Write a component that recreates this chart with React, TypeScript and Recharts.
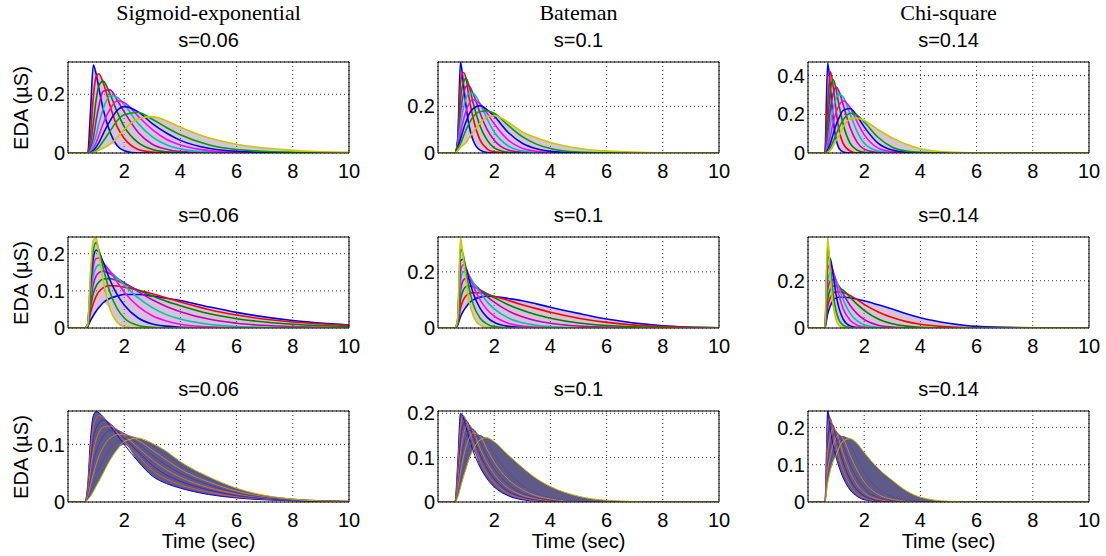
import { ComposedChart, Line, Area, XAxis, YAxis, CartesianGrid, ReferenceLine } from 'recharts'

// sample times (sec) shared by every curve
const T = [0, 0.6, 0.7, 0.8, 0.9, 1.0, 1.1, 1.25, 1.5, 1.75, 2, 2.5, 3, 3.5, 4, 5, 6, 8, 10]

// row 1: shape parameter varies
const sigmoidTop = [
  [0, 0, 0, 0.14, 0.3, 0.27, 0.22, 0.15, 0.07, 0.025, 0.008, 0, 0, 0, 0, 0, 0, 0, 0],
  [0, 0, 0, 0.06, 0.19, 0.26, 0.27, 0.24, 0.16, 0.09, 0.05, 0.012, 0.003, 0, 0, 0, 0, 0, 0],
  [0, 0, 0, 0.03, 0.1, 0.18, 0.23, 0.245, 0.2, 0.14, 0.09, 0.035, 0.012, 0.004, 0.001, 0, 0, 0, 0],
  [0, 0, 0, 0.015, 0.05, 0.11, 0.16, 0.21, 0.215, 0.18, 0.14, 0.07, 0.03, 0.013, 0.005, 0.001, 0, 0, 0],
  [0, 0, 0, 0.008, 0.03, 0.06, 0.1, 0.15, 0.195, 0.19, 0.165, 0.1, 0.055, 0.028, 0.014, 0.003, 0.001, 0, 0],
  [0, 0, 0, 0.004, 0.015, 0.035, 0.06, 0.1, 0.15, 0.178, 0.172, 0.125, 0.08, 0.047, 0.027, 0.008, 0.002, 0, 0],
  [0, 0, 0, 0.002, 0.008, 0.02, 0.035, 0.065, 0.11, 0.145, 0.158, 0.14, 0.1, 0.068, 0.043, 0.016, 0.006, 0.001, 0],
  [0, 0, 0, 0.001, 0.004, 0.01, 0.02, 0.04, 0.075, 0.11, 0.13, 0.138, 0.115, 0.087, 0.062, 0.028, 0.012, 0.002, 0],
  [0, 0, 0, 0, 0.002, 0.005, 0.009, 0.016, 0.03, 0.052, 0.08, 0.117, 0.124, 0.11, 0.088, 0.052, 0.03, 0.009, 0.002],
]
const batemanTop = [
  [0, 0, 0.06, 0.39, 0.3, 0.2, 0.12, 0.055, 0.012, 0.002, 0, 0, 0, 0, 0, 0, 0, 0, 0],
  [0, 0, 0.05, 0.3, 0.345, 0.32, 0.24, 0.15, 0.055, 0.017, 0.005, 0, 0, 0, 0, 0, 0, 0, 0],
  [0, 0, 0.045, 0.23, 0.3, 0.32, 0.29, 0.215, 0.115, 0.055, 0.022, 0.003, 0, 0, 0, 0, 0, 0, 0],
  [0, 0, 0.04, 0.17, 0.25, 0.285, 0.288, 0.255, 0.17, 0.1, 0.055, 0.013, 0.003, 0, 0, 0, 0, 0, 0],
  [0, 0, 0.035, 0.12, 0.19, 0.235, 0.255, 0.255, 0.21, 0.145, 0.09, 0.03, 0.009, 0.002, 0, 0, 0, 0, 0],
  [0, 0, 0.03, 0.085, 0.14, 0.18, 0.21, 0.228, 0.21, 0.17, 0.125, 0.055, 0.02, 0.007, 0.002, 0, 0, 0, 0],
  [0, 0, 0.025, 0.06, 0.1, 0.135, 0.165, 0.19, 0.203, 0.185, 0.158, 0.088, 0.042, 0.018, 0.007, 0.001, 0, 0, 0],
  [0, 0, 0.02, 0.04, 0.07, 0.1, 0.125, 0.155, 0.178, 0.18, 0.17, 0.118, 0.07, 0.038, 0.019, 0.004, 0.001, 0, 0],
  [0, 0, 0.01, 0.025, 0.035, 0.045, 0.065, 0.09, 0.128, 0.155, 0.16, 0.132, 0.09, 0.065, 0.045, 0.02, 0.008, 0.001, 0],
]
const chiTop = [
  [0, 0, 0.465, 0.33, 0.17, 0.07, 0.025, 0.005, 0, 0, 0, 0, 0, 0, 0, 0, 0, 0, 0],
  [0, 0, 0.25, 0.42, 0.34, 0.22, 0.12, 0.05, 0.01, 0, 0, 0, 0, 0, 0, 0, 0, 0, 0],
  [0, 0, 0.15, 0.33, 0.38, 0.33, 0.25, 0.15, 0.05, 0.015, 0.004, 0, 0, 0, 0, 0, 0, 0, 0],
  [0, 0, 0.09, 0.23, 0.31, 0.34, 0.32, 0.25, 0.13, 0.055, 0.02, 0.003, 0, 0, 0, 0, 0, 0, 0],
  [0, 0, 0.05, 0.15, 0.23, 0.28, 0.303, 0.29, 0.2, 0.11, 0.05, 0.01, 0.002, 0, 0, 0, 0, 0, 0],
  [0, 0, 0.03, 0.09, 0.16, 0.21, 0.245, 0.27, 0.235, 0.16, 0.095, 0.025, 0.006, 0.001, 0, 0, 0, 0, 0],
  [0, 0, 0.015, 0.05, 0.1, 0.145, 0.18, 0.22, 0.23, 0.19, 0.135, 0.05, 0.015, 0.004, 0.001, 0, 0, 0, 0],
  [0, 0, 0.008, 0.03, 0.06, 0.095, 0.13, 0.17, 0.205, 0.195, 0.16, 0.08, 0.03, 0.01, 0.003, 0, 0, 0, 0],
  [0, 0, 0.004, 0.015, 0.035, 0.065, 0.09, 0.135, 0.175, 0.18, 0.168, 0.12, 0.078, 0.045, 0.022, 0.005, 0.001, 0, 0],
]

// row 2: decay time varies (slowest first)
const sigmoidMid = [
  [0, 0, 0.004, 0.02, 0.033, 0.045, 0.055, 0.068, 0.08, 0.086, 0.09, 0.09, 0.086, 0.08, 0.074, 0.057, 0.042, 0.02, 0.008],
  [0, 0, 0.005, 0.04, 0.066, 0.085, 0.098, 0.108, 0.114, 0.113, 0.11, 0.102, 0.092, 0.081, 0.07, 0.05, 0.035, 0.016, 0.007],
  [0, 0, 0.006, 0.055, 0.093, 0.113, 0.124, 0.132, 0.133, 0.127, 0.119, 0.102, 0.086, 0.072, 0.06, 0.039, 0.025, 0.01, 0.004],
  [0, 0, 0.007, 0.07, 0.117, 0.14, 0.149, 0.153, 0.146, 0.134, 0.122, 0.098, 0.076, 0.058, 0.044, 0.024, 0.013, 0.004, 0.001],
  [0, 0, 0.008, 0.085, 0.14, 0.163, 0.17, 0.167, 0.152, 0.135, 0.116, 0.081, 0.055, 0.036, 0.024, 0.01, 0.004, 0.001, 0],
  [0, 0, 0.009, 0.1, 0.163, 0.187, 0.188, 0.176, 0.152, 0.124, 0.097, 0.058, 0.033, 0.019, 0.01, 0.003, 0.001, 0, 0],
  [0, 0, 0.01, 0.115, 0.187, 0.21, 0.204, 0.178, 0.128, 0.09, 0.062, 0.027, 0.011, 0.005, 0.002, 0, 0, 0, 0],
  [0, 0, 0.01, 0.13, 0.21, 0.23, 0.21, 0.163, 0.095, 0.052, 0.027, 0.007, 0.002, 0, 0, 0, 0, 0, 0],
  [0, 0, 0.01, 0.15, 0.235, 0.243, 0.2, 0.13, 0.05, 0.015, 0.004, 0, 0, 0, 0, 0, 0, 0, 0],
]
const batemanMid = [
  [0, 0, 0.01, 0.04, 0.06, 0.075, 0.088, 0.1, 0.11, 0.113, 0.112, 0.105, 0.097, 0.086, 0.074, 0.052, 0.032, 0.008, 0.001],
  [0, 0, 0.014, 0.07, 0.1, 0.115, 0.122, 0.126, 0.125, 0.12, 0.113, 0.098, 0.083, 0.069, 0.056, 0.035, 0.02, 0.005, 0.001],
  [0, 0, 0.017, 0.1, 0.135, 0.148, 0.15, 0.147, 0.135, 0.122, 0.108, 0.083, 0.063, 0.047, 0.035, 0.018, 0.009, 0.002, 0],
  [0, 0, 0.02, 0.13, 0.17, 0.177, 0.172, 0.16, 0.135, 0.112, 0.092, 0.061, 0.04, 0.026, 0.017, 0.007, 0.003, 0, 0],
  [0, 0, 0.022, 0.165, 0.2, 0.2, 0.188, 0.163, 0.125, 0.093, 0.068, 0.036, 0.019, 0.01, 0.005, 0.001, 0, 0, 0],
  [0, 0, 0.025, 0.2, 0.225, 0.212, 0.188, 0.15, 0.1, 0.065, 0.042, 0.017, 0.007, 0.003, 0.001, 0, 0, 0, 0],
  [0, 0, 0.028, 0.24, 0.245, 0.212, 0.175, 0.125, 0.07, 0.038, 0.02, 0.006, 0.002, 0, 0, 0, 0, 0, 0],
  [0, 0, 0.03, 0.28, 0.26, 0.2, 0.145, 0.085, 0.035, 0.014, 0.005, 0.001, 0, 0, 0, 0, 0, 0, 0],
  [0, 0, 0.035, 0.32, 0.25, 0.17, 0.1, 0.045, 0.01, 0.002, 0, 0, 0, 0, 0, 0, 0, 0, 0],
]
const chiMid = [
  [0, 0, 0.06, 0.095, 0.118, 0.127, 0.13, 0.13, 0.128, 0.122, 0.115, 0.098, 0.08, 0.06, 0.043, 0.02, 0.007, 0.001, 0],
  [0, 0, 0.09, 0.13, 0.148, 0.153, 0.153, 0.15, 0.138, 0.12, 0.1, 0.068, 0.044, 0.027, 0.016, 0.005, 0.001, 0, 0],
  [0, 0, 0.12, 0.165, 0.178, 0.178, 0.172, 0.16, 0.13, 0.1, 0.075, 0.038, 0.018, 0.008, 0.003, 0, 0, 0, 0],
  [0, 0, 0.16, 0.2, 0.205, 0.195, 0.178, 0.145, 0.095, 0.06, 0.036, 0.012, 0.004, 0.001, 0, 0, 0, 0, 0],
  [0, 0, 0.2, 0.235, 0.228, 0.205, 0.17, 0.12, 0.062, 0.03, 0.014, 0.003, 0, 0, 0, 0, 0, 0, 0],
  [0, 0, 0.25, 0.27, 0.24, 0.19, 0.14, 0.082, 0.033, 0.012, 0.004, 0, 0, 0, 0, 0, 0, 0, 0],
  [0, 0, 0.3, 0.29, 0.22, 0.14, 0.085, 0.038, 0.009, 0.002, 0, 0, 0, 0, 0, 0, 0, 0, 0],
  [0, 0, 0.345, 0.25, 0.14, 0.072, 0.035, 0.012, 0.002, 0, 0, 0, 0, 0, 0, 0, 0, 0, 0],
  [0, 0, 0.385, 0.21, 0.09, 0.035, 0.012, 0.002, 0, 0, 0, 0, 0, 0, 0, 0, 0, 0, 0],
]

// row 3: onset shape shifts (first curve on top)
const sigmoidLow = [
  [0, 0, 0.03, 0.11, 0.15, 0.157, 0.155, 0.148, 0.132, 0.116, 0.1, 0.07, 0.045, 0.032, 0.024, 0.013, 0.007, 0.002, 0],
  [0, 0, 0.025, 0.09, 0.13, 0.145, 0.15, 0.147, 0.135, 0.12, 0.106, 0.08, 0.055, 0.04, 0.03, 0.017, 0.009, 0.003, 0.001],
  [0, 0, 0.02, 0.07, 0.11, 0.128, 0.137, 0.142, 0.136, 0.124, 0.111, 0.087, 0.064, 0.047, 0.036, 0.021, 0.011, 0.003, 0.001],
  [0, 0, 0.015, 0.055, 0.088, 0.108, 0.12, 0.13, 0.132, 0.126, 0.116, 0.094, 0.073, 0.056, 0.043, 0.025, 0.014, 0.004, 0.001],
  [0, 0, 0.012, 0.04, 0.067, 0.087, 0.1, 0.114, 0.124, 0.124, 0.119, 0.101, 0.081, 0.064, 0.05, 0.03, 0.016, 0.004, 0.001],
  [0, 0, 0.009, 0.028, 0.048, 0.065, 0.079, 0.095, 0.111, 0.117, 0.117, 0.107, 0.09, 0.073, 0.057, 0.035, 0.019, 0.005, 0.001],
  [0, 0, 0.006, 0.018, 0.032, 0.045, 0.057, 0.073, 0.093, 0.105, 0.112, 0.11, 0.097, 0.081, 0.064, 0.04, 0.022, 0.005, 0.001],
  [0, 0, 0.004, 0.01, 0.018, 0.027, 0.036, 0.05, 0.073, 0.091, 0.105, 0.111, 0.102, 0.088, 0.07, 0.044, 0.024, 0.005, 0],
]
const batemanLow = [
  [0, 0, 0.09, 0.2, 0.19, 0.168, 0.145, 0.115, 0.078, 0.052, 0.034, 0.014, 0.005, 0.002, 0.001, 0, 0, 0, 0],
  [0, 0, 0.07, 0.17, 0.195, 0.185, 0.165, 0.133, 0.092, 0.063, 0.043, 0.019, 0.008, 0.003, 0.001, 0, 0, 0, 0],
  [0, 0, 0.055, 0.14, 0.175, 0.184, 0.175, 0.148, 0.106, 0.075, 0.052, 0.024, 0.011, 0.005, 0.002, 0, 0, 0, 0],
  [0, 0, 0.042, 0.11, 0.15, 0.17, 0.175, 0.16, 0.12, 0.088, 0.063, 0.031, 0.015, 0.007, 0.003, 0, 0, 0, 0],
  [0, 0, 0.032, 0.087, 0.125, 0.148, 0.16, 0.164, 0.135, 0.102, 0.075, 0.04, 0.02, 0.01, 0.004, 0.001, 0, 0, 0],
  [0, 0, 0.024, 0.066, 0.1, 0.125, 0.142, 0.156, 0.148, 0.118, 0.09, 0.051, 0.028, 0.014, 0.007, 0.001, 0, 0, 0],
  [0, 0, 0.017, 0.048, 0.077, 0.102, 0.122, 0.142, 0.15, 0.134, 0.108, 0.066, 0.038, 0.02, 0.01, 0.002, 0, 0, 0],
  [0, 0, 0.01, 0.032, 0.055, 0.075, 0.095, 0.118, 0.14, 0.145, 0.136, 0.106, 0.078, 0.053, 0.035, 0.013, 0.004, 0, 0],
]
const chiLow = [
  [0, 0, 0.244, 0.19, 0.15, 0.12, 0.095, 0.065, 0.032, 0.015, 0.006, 0.001, 0, 0, 0, 0, 0, 0, 0],
  [0, 0, 0.2, 0.225, 0.185, 0.15, 0.12, 0.085, 0.045, 0.022, 0.01, 0.002, 0, 0, 0, 0, 0, 0, 0],
  [0, 0, 0.16, 0.21, 0.205, 0.175, 0.145, 0.107, 0.06, 0.032, 0.016, 0.004, 0.001, 0, 0, 0, 0, 0, 0],
  [0, 0, 0.13, 0.18, 0.198, 0.19, 0.168, 0.13, 0.08, 0.046, 0.025, 0.007, 0.002, 0, 0, 0, 0, 0, 0],
  [0, 0, 0.105, 0.15, 0.178, 0.188, 0.18, 0.152, 0.1, 0.063, 0.037, 0.012, 0.004, 0.001, 0, 0, 0, 0, 0],
  [0, 0, 0.085, 0.125, 0.155, 0.173, 0.181, 0.17, 0.125, 0.085, 0.054, 0.02, 0.007, 0.002, 0, 0, 0, 0, 0],
  [0, 0, 0.065, 0.105, 0.133, 0.153, 0.167, 0.176, 0.152, 0.115, 0.08, 0.035, 0.014, 0.005, 0.001, 0, 0, 0, 0],
  [0, 0, 0.05, 0.085, 0.11, 0.125, 0.145, 0.163, 0.17, 0.157, 0.133, 0.09, 0.058, 0.03, 0.013, 0.002, 0, 0, 0],
]

const X_TICKS = [2, 4, 6, 8, 10]
const MODELS = ['Sigmoid-exponential', 'Bateman', 'Chi-square']
const S_LABELS = ['s=0.06', 's=0.1', 's=0.14']

const COLORS = ['#0000ff', '#ff0000', '#008000', '#bf00bf', '#00bfbf', '#ff00ff', '#0000ff', '#00a000', '#c8c800']
const STRIPES = ['#0000ff', '#e06020', '#3030c0', '#e07030', '#4040b0', '#d08040', '#5050a0', '#c8b400']

const COL_X = [68, 438, 808]
const ROW_Y = [62, 237, 411]
const PW = 281
const PH = 91
const YW = 60
const XH = 40
const MT = 12
const MR = 24
const SANS = '"Liberation Sans", Arial, Helvetica, sans-serif'

type PanelDef = { curves: number[][]; yMax: number; yTicks: number[]; row: number; col: number; dense?: boolean }

const PANELS: PanelDef[] = [
  { curves: sigmoidTop, yMax: 0.31, yTicks: [0, 0.2], row: 0, col: 0 },
  { curves: batemanTop, yMax: 0.39, yTicks: [0, 0.2], row: 0, col: 1 },
  { curves: chiTop, yMax: 0.47, yTicks: [0, 0.2, 0.4], row: 0, col: 2 },
  { curves: sigmoidMid, yMax: 0.245, yTicks: [0, 0.1, 0.2], row: 1, col: 0 },
  { curves: batemanMid, yMax: 0.324, yTicks: [0, 0.2], row: 1, col: 1 },
  { curves: chiMid, yMax: 0.385, yTicks: [0, 0.2], row: 1, col: 2 },
  { curves: sigmoidLow, yMax: 0.158, yTicks: [0, 0.1], row: 2, col: 0, dense: true },
  { curves: batemanLow, yMax: 0.205, yTicks: [0, 0.1, 0.2], row: 2, col: 1, dense: true },
  { curves: chiLow, yMax: 0.244, yTicks: [0, 0.1, 0.2], row: 2, col: 2, dense: true },
]

function Panel({ p }: { p: PanelDef }) {
  const rows = T.map((t, i) => {
    const r: any = { t }
    const vals = p.curves.map((c) => c[i])
    vals.forEach((v, k) => { r['c' + k] = v })
    r.band = [Math.min(...vals), Math.max(...vals)]
    return r
  })
  const palette = p.dense ? STRIPES : COLORS
  const tickStyle = { fill: '#000', fontSize: 20, fontFamily: SANS }

  return (
    <div style={{ position: 'absolute', left: COL_X[p.col] - YW, top: ROW_Y[p.row] - MT }}>
      <ComposedChart
        width={YW + PW + MR}
        height={MT + PH + XH}
        data={rows}
        margin={{ top: MT, right: MR, bottom: 0, left: 0 }}
      >
        <CartesianGrid stroke="#333" strokeDasharray="1 3" />
        <XAxis
          type="number"
          dataKey="t"
          domain={[0, 10]}
          ticks={X_TICKS}
          height={XH}
          tickLine={false}
          tickSize={0}
          tickMargin={11}
          axisLine={{ stroke: '#000' }}
          tick={tickStyle}
          interval={0}
        />
        <YAxis
          type="number"
          domain={[0, p.yMax]}
          ticks={p.yTicks}
          allowDataOverflow
          width={YW}
          tickLine={false}
          tickSize={0}
          tickMargin={3}
          axisLine={{ stroke: '#000' }}
          tick={tickStyle}
          interval={0}
          tickFormatter={(v: number) => (v === 0 ? '0' : String(v))}
        />
        <Area
          type="monotone"
          dataKey="band"
          stroke="none"
          fill={p.dense ? '#5f5a88' : '#9a6a9a'}
          fillOpacity={p.dense ? 1 : 0.4}
          isAnimationActive={false}
        />
        {p.curves.map((_, k) => (
          <Line
            key={k}
            type="monotone"
            dataKey={'c' + k}
            stroke={palette[k % palette.length]}
            strokeWidth={p.dense ? 1 : 1.6}
            dot={false}
            isAnimationActive={false}
          />
        ))}
        <ReferenceLine y={p.yMax} stroke="#000" />
        <ReferenceLine x={10} stroke="#000" />
      </ComposedChart>
    </div>
  )
}

function Label({ text, x, y, size, serif }: { text: string; x: number; y: number; size: number; serif?: boolean }) {
  return (
    <div
      style={{
        position: 'absolute',
        left: x - 150,
        top: y - size / 2,
        width: 300,
        textAlign: 'center',
        fontSize: size,
        lineHeight: `${size}px`,
        fontFamily: serif ? '"Liberation Serif", "Times New Roman", serif' : SANS,
        color: '#000',
        whiteSpace: 'nowrap',
      }}
    >
      {text}
    </div>
  )
}

export default function App() {
  return (
    <div style={{ position: 'absolute', left: 0, top: 0, width: 1106, height: 556, background: '#fff', overflow: 'hidden' }}>
      {PANELS.map((p, i) => (
        <Panel key={i} p={p} />
      ))}
      {MODELS.map((m, c) => (
        <Label key={m} text={m} x={COL_X[c] + PW / 2} y={13} size={22} serif />
      ))}
      {ROW_Y.map((ry) =>
        S_LABELS.map((s, c) => <Label key={s + ry} text={s} x={COL_X[c] + PW / 2} y={ry - 22} size={20} />)
      )}
      {COL_X.map((cx) => (
        <Label key={'time' + cx} text="Time (sec)" x={cx + PW / 2} y={541} size={20} />
      ))}
      {ROW_Y.map((ry) => (
        <div
          key={'eda' + ry}
          style={{
            position: 'absolute',
            left: 21 - 60,
            top: ry + PH / 2 - 10,
            width: 120,
            textAlign: 'center',
            fontSize: 20,
            lineHeight: '20px',
            fontFamily: SANS,
            transform: 'rotate(-90deg)',
            whiteSpace: 'nowrap',
          }}
        >
          EDA (µS)
        </div>
      ))}
    </div>
  )
}
